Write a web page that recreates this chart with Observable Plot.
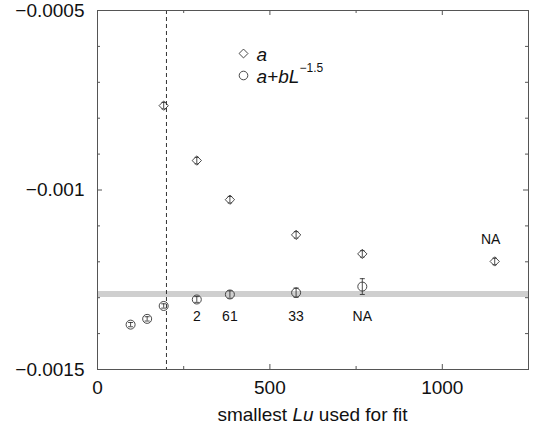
<!DOCTYPE html>
<html>
<head>
<meta charset="utf-8">
<script src="https://cdn.jsdelivr.net/npm/d3@7"></script>
<script src="https://cdn.jsdelivr.net/npm/@observablehq/plot@0.6"></script>
<style>
  html, body { margin: 0; padding: 0; background: #fff; }
  #chart { width: 536px; height: 428px; }
  svg { font-family: "Liberation Sans", Arial, sans-serif; }
</style>
</head>
<body>
<div id="chart"></div>
<script>
// ---- data ----
const aX   = [192, 288, 384, 576, 768, 1152];
const aY   = [-0.000765, -0.000918, -0.001027, -0.001125, -0.001178, -0.001199];
const aErr = [0.000009, 0.000009, 0.000009, 0.000009, 0.000009, 0.000009];

const bX   = [96, 144, 192, 288, 384, 576, 768];
const bY   = [-0.001375, -0.001359, -0.001323, -0.001305, -0.001291, -0.001286, -0.001269];
const bErr = [0.000006, 0.000006, 0.000006, 0.000008, 0.00001, 0.000013, 0.000022];

const countX = [288, 384, 576, 768];
const countLabels = ["2", "61", "33", "NA"];
const countY = -0.001352;

const naX = [1152];
const naLabels = ["NA"];

const bandY = [-0.00129];
const cutX = [200];

const xTicks = [0, 250, 500, 750, 1000, 1250];
const xLabelTicks = [0, 500, 1000];
const yTicks = [-0.0015, -0.0014, -0.0013, -0.0012, -0.0011, -0.001, -0.0009, -0.0008, -0.0007, -0.0006, -0.0005];
const yLabelTicks = [-0.0015, -0.001, -0.0005];

// ---- layout ----
const W = 536, H = 428;
const mL = 97, mR = 8, mT = 10, mB = 59;
const fW = W - mL - mR, fH = H - mT - mB;

const aData = aX.map((x, i) => ({x, y: aY[i], e: aErr[i]}));
const bData = bX.map((x, i) => ({x, y: bY[i], e: bErr[i]}));
const counts = countX.map((x, i) => ({x, y: countY, t: countLabels[i]}));
const naData = naX.map((x, i) => ({x, y: aY[aX.indexOf(x)], t: naLabels[i]}));

const capSymbol = {draw(ctx, size) { const w = Math.sqrt(size / Math.PI); ctx.moveTo(-w, 0); ctx.lineTo(w, 0); }};
const isMajorY = d => yLabelTicks.some(v => Math.abs(v - d) < 1e-9);
const isMajorX = d => xLabelTicks.includes(d);
const fmtY = d => (d < 0 ? "\u2212" : "") + String(+Math.abs(d).toFixed(5));

const ink = "#222";
const tickColor = "#555";

const svg = Plot.plot({
  width: W, height: H,
  marginLeft: mL, marginRight: mR, marginTop: mT, marginBottom: mB,
  x: {domain: [0, 1250]},
  y: {domain: [-0.0015, -0.0005]},
  style: {fontFamily: "Liberation Sans, Arial, sans-serif", color: "#111"},
  marks: [
    Plot.ruleY(bandY, {stroke: "#cfcfcf", strokeWidth: 6}),
    Plot.ruleX(cutX, {stroke: "#333", strokeDasharray: "4,3", strokeWidth: 1}),
    // error bars
    Plot.ruleX(aData, {x: "x", y1: d => d.y - d.e, y2: d => d.y + d.e, stroke: ink, strokeWidth: 0.8}),
    Plot.dot(aData, {x: "x", y: d => d.y - d.e, r: 2.2, symbol: capSymbol, stroke: ink, strokeWidth: 0.8, fill: "none"}),
    Plot.dot(aData, {x: "x", y: d => d.y + d.e, r: 2.2, symbol: capSymbol, stroke: ink, strokeWidth: 0.8, fill: "none"}),
    Plot.ruleX(bData, {x: "x", y1: d => d.y - d.e, y2: d => d.y + d.e, stroke: ink, strokeWidth: 0.8}),
    Plot.dot(bData, {x: "x", y: d => d.y - d.e, r: 2.5, symbol: capSymbol, stroke: ink, strokeWidth: 0.8, fill: "none"}),
    Plot.dot(bData, {x: "x", y: d => d.y + d.e, r: 2.5, symbol: capSymbol, stroke: ink, strokeWidth: 0.8, fill: "none"}),
    // symbols
    Plot.dot(aData, {x: "x", y: "y", symbol: "diamond2", r: 4.2, stroke: "#333", strokeWidth: 0.9, fill: "none"}),
    Plot.dot(bData, {x: "x", y: "y", symbol: "circle", r: 4.5, stroke: "#333", strokeWidth: 0.9, fill: "none"}),
    // annotations
    Plot.text(counts, {x: "x", y: "y", text: "t", fontSize: 14, fill: "#111"}),
    Plot.text(naData, {x: "x", y: "y", text: "t", dy: -22, dx: -4, fontSize: 14, fill: "#111"}),
    // frame and inward ticks
    Plot.frame({stroke: tickColor, strokeWidth: 1}),
    Plot.ruleX(xTicks.filter(isMajorX), {x: d => d, insetTop: fH - 5, stroke: tickColor}),
    Plot.ruleX(xTicks.filter(d => !isMajorX(d)), {x: d => d, insetTop: fH - 3, stroke: tickColor}),
    Plot.ruleX(xTicks.filter(isMajorX), {x: d => d, insetBottom: fH - 5, stroke: tickColor}),
    Plot.ruleX(xTicks.filter(d => !isMajorX(d)), {x: d => d, insetBottom: fH - 3, stroke: tickColor}),
    Plot.ruleY(yTicks.filter(isMajorY), {y: d => d, insetRight: fW - 5, stroke: tickColor}),
    Plot.ruleY(yTicks.filter(d => !isMajorY(d)), {y: d => d, insetRight: fW - 3, stroke: tickColor}),
    Plot.ruleY(yTicks.filter(isMajorY), {y: d => d, insetLeft: fW - 5, stroke: tickColor}),
    Plot.ruleY(yTicks.filter(d => !isMajorY(d)), {y: d => d, insetLeft: fW - 3, stroke: tickColor}),
    // tick labels
    Plot.axisX({ticks: xLabelTicks, tickSize: 0, tickPadding: 11, tickFormat: d => String(d), label: null, fontSize: 19}),
    Plot.axisY({ticks: yLabelTicks, tickSize: 0, tickPadding: 13, tickFormat: fmtY, label: null, fontSize: 19}),
    // legend
    Plot.dot([0], {frameAnchor: "top-left", dx: 146, dy: 43, symbol: "diamond2", r: 4, stroke: "#333", strokeWidth: 0.9, fill: "none"}),
    Plot.dot([0], {frameAnchor: "top-left", dx: 146, dy: 65, symbol: "circle", r: 4.3, stroke: "#333", strokeWidth: 0.9, fill: "none"}),
    Plot.text(["a"], {frameAnchor: "top-left", dx: 159, dy: 44, text: d => d, textAnchor: "start", lineAnchor: "middle", fontSize: 19, fontStyle: "italic", fill: "#111"}),
    Plot.text(["a+bL"], {frameAnchor: "top-left", dx: 159, dy: 66, text: d => d, textAnchor: "start", lineAnchor: "middle", fontSize: 19, fontStyle: "italic", fill: "#111"}),
    Plot.text(["\u22121.5"], {frameAnchor: "top-left", dx: 202, dy: 58, text: d => d, textAnchor: "start", lineAnchor: "middle", fontSize: 12, fill: "#111"})
  ]
});

// x-axis title with italic "Lu"
const t = d3.select(svg).append("text")
  .attr("x", mL + fW / 2).attr("y", 421)
  .attr("text-anchor", "middle")
  .attr("font-size", 19)
  .attr("fill", "#111");
t.append("tspan").text("smallest ");
t.append("tspan").attr("font-style", "italic").text("Lu");
t.append("tspan").text(" used for fit");

document.getElementById("chart").appendChild(svg);
</script>
</body>
</html>
